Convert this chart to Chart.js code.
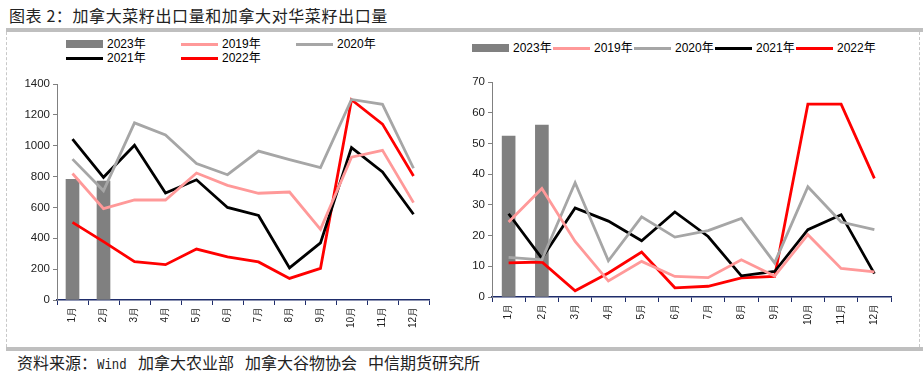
<!doctype html>
<html lang="zh">
<head>
<meta charset="utf-8" />
<title>加拿大菜籽出口量</title>
<script src="https://cdn.jsdelivr.net/npm/chart.js@4.4.4/dist/chart.umd.min.js"></script>
<style>
  body { margin: 0; width: 923px; height: 372px; background: #fff; position: relative; overflow: hidden;
         font-family: "Liberation Sans", Arial, "Noto Sans CJK SC", sans-serif; color: #000; }
  .title { position: absolute; left: 9px; top: 7px; font: 16px/16px "Noto Sans CJK SC", sans-serif; color: #222; letter-spacing: 0.6px; }
  .bar-top { position: absolute; left: 6px; top: 28px; width: 917px; height: 4px; background: #bfbfbf; }
  .bar-bot { position: absolute; left: 6px; top: 347px; width: 917px; height: 4px; background: #bfbfbf; }
  .dash { position: absolute; top: 32px; height: 315px; border-left: 1px dashed #c8c8c8; }
  .source { position: absolute; left: 17px; top: 354px; font: 16px/16px "Noto Sans CJK SC", sans-serif; color: #222; white-space: nowrap; }
  .source .m { display: inline-block; font: 15px/16px "Liberation Mono", monospace; transform: scaleX(0.82); transform-origin: left; width: 30px; }
  .source .g { display: inline-block; width: 11px; }
  .leg { position: absolute; font-size: 12px; line-height: 14px; white-space: nowrap; }
  .leg i { position: absolute; top: 6px; width: 37px; height: 3px; }
  .leg i.box { top: 3px; height: 8px; }
  .leg span { position: absolute; left: 41px; top: 0; }
  canvas { position: absolute; }
</style>
</head>
<body>
<div class="title">图表 2：加拿大菜籽出口量和加拿大对华菜籽出口量</div>
<div class="bar-top"></div>
<div class="bar-bot"></div>
<div class="dash" style="left:6px"></div>
<div class="dash" style="left:919px"></div>
<div id="legL"></div>
<div id="legR"></div>
<canvas id="left" width="450" height="272" style="left:0;top:70px"></canvas>
<canvas id="right" width="470" height="272" style="left:440px;top:70px"></canvas>
<div class="source">资料来源：<span class="m">Wind</span><span class="g"></span>加拿大农业部<span class="g"></span>加拿大谷物协会<span class="g"></span>中信期货研究所</div>

<script>
const months = ["1月", "2月", "3月", "4月", "5月", "6月", "7月", "8月", "9月", "10月", "11月", "12月"];

// 加拿大菜籽出口量
const exp2023 = [782, 770, null, null, null, null, null, null, null, null, null, null];
const exp2019 = [820, 592, 648, 648, 823, 743, 692, 700, 458, 926, 970, 631];
const exp2020 = [913, 708, 1148, 1070, 885, 812, 965, 910, 858, 1300, 1268, 854];
const exp2021 = [1042, 795, 1003, 694, 779, 600, 548, 208, 370, 988, 830, 556];
const exp2022 = [503, 378, 249, 229, 330, 280, 247, 140, 205, 1298, 1140, 804];

// 加拿大对华菜籽出口量
const cn2023 = [52.4, 56.0, null, null, null, null, null, null, null, null, null, null];
const cn2019 = [24.4, 35.3, 18.1, 5.2, 11.6, 6.7, 6.3, 12.1, 6.8, 20.3, 9.3, 8.2];
const cn2020 = [12.9, 12.1, 37.2, 11.8, 26.1, 19.5, 21.6, 25.6, 11.1, 35.9, 24.4, 21.9];
const cn2021 = [27.1, 12.6, 29.0, 24.7, 18.3, 27.7, 19.7, 6.9, 8.3, 21.9, 26.8, 7.6];
const cn2022 = [11.1, 11.4, 2.0, 7.8, 14.6, 3.0, 3.5, 6.2, 6.7, 62.8, 62.8, 38.6];

const C = { y2023: "#808080", y2019: "#ff9999", y2020: "#a6a6a6", y2021: "#000000", y2022: "#ff0000" };
const NAVY = "#1f2d6b";

function legend(el, items) {
  el.innerHTML = items.map(([label, color, x, y, box]) =>
    `<div class="leg" style="left:${x}px;top:${y}px"><i class="${box ? "box" : ""}" style="background:${color}"></i><span>${label}</span></div>`).join("");
}
legend(document.getElementById("legL"), [
  ["2023年", C.y2023, 66, 37, true], ["2019年", C.y2019, 181, 37], ["2020年", C.y2020, 296, 37],
  ["2021年", C.y2021, 66, 51], ["2022年", C.y2022, 181, 51],
]);
legend(document.getElementById("legR"), [
  ["2023年", C.y2023, 472, 41, true], ["2019年", C.y2019, 553, 41], ["2020年", C.y2020, 634, 41],
  ["2021年", C.y2021, 715, 41], ["2022年", C.y2022, 796, 41],
]);

function line(label, data, color) {
  return { type: "line", label, data, borderColor: color, backgroundColor: color, borderWidth: 2.8,
           pointRadius: 0, tension: 0, order: 1 };
}

function makeChart(id, bars, lines, max, step, yWidth, xHeight, pad) {
  new Chart(document.getElementById(id), {
    data: {
      labels: months,
      datasets: [
        { type: "bar", label: "2023年", data: bars, backgroundColor: C.y2023, barThickness: 13, order: 5 },
        line("2019年", lines[0], C.y2019),
        line("2020年", lines[1], C.y2020),
        line("2021年", lines[2], C.y2021),
        line("2022年", lines[3], C.y2022),
      ],
    },
    options: {
      responsive: false,
      animation: false,
      layout: { padding: pad },
      plugins: { legend: { display: false }, tooltip: { enabled: false } },
      scales: {
        x: {
          offset: true,
          grid: { offset: true, drawOnChartArea: false, tickLength: 5, color: NAVY },
          border: { color: NAVY, width: 1.5 },
          ticks: { minRotation: 90, maxRotation: 90, color: "#222", font: { size: 10 }, padding: 2 },
          afterFit: (s) => { s.height = xHeight; },
        },
        y: {
          min: 0, max,
          grid: { drawOnChartArea: false, tickLength: 4, color: "#808080" },
          border: { color: "#808080" },
          ticks: { stepSize: step, color: "#222", font: { size: 11.5 }, padding: 3, format: { useGrouping: false } },
          afterFit: (s) => { s.width = yWidth; },
        },
      },
    },
  });
}

makeChart("left", exp2023, [exp2019, exp2020, exp2021, exp2022], 1400, 200, 57, 42, { top: 14, right: 21 });
makeChart("right", cn2023, [cn2019, cn2020, cn2021, cn2022], 70, 10, 52, 45, { top: 12, right: 19 });
</script>
</body>
</html>
